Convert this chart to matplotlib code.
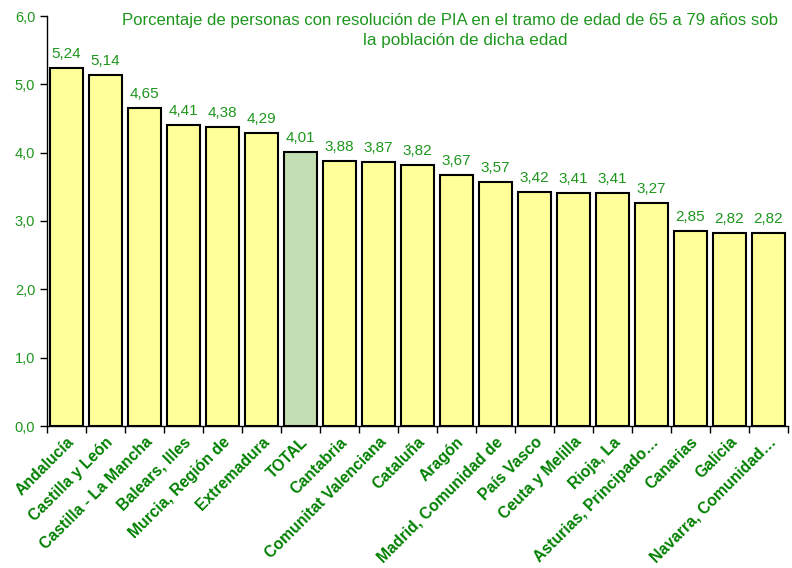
import numpy as np
import matplotlib.pyplot as plt
from matplotlib.ticker import FixedLocator, NullFormatter

plt.rcParams['font.family'] = ['Liberation Sans', 'DejaVu Sans']

regions = ["Andalucía", "Castilla y León", "Castilla - La Mancha", "Balears, Illes",
           "Murcia, Región de", "Extremadura", "TOTAL", "Cantabria",
           "Comunitat Valenciana", "Cataluña", "Aragón", "Madrid, Comunidad de",
           "País Vasco", "Ceuta y Melilla", "Rioja, La", "Asturias, Principado…",
           "Canarias", "Galicia", "Navarra, Comunidad…"]
values = [5.24, 5.14, 4.65, 4.41, 4.38, 4.29, 4.01, 3.88, 3.87, 3.82, 3.67,
          3.57, 3.42, 3.41, 3.41, 3.27, 2.85, 2.82, 2.82]
y_ticks = [0, 1, 2, 3, 4, 5, 6]

green = "#008000"
value_green = "#1E961E"

fig = plt.figure(figsize=(7.92, 5.68), dpi=100)
ax = fig.add_axes([47/792, 1 - 426/568, 741/792, 410/568])

x = np.arange(len(regions))
colors = ["#C4DEB4" if r == "TOTAL" else "#FFFF99" for r in regions]
ax.bar(x, values, width=0.84, color=colors, edgecolor="black", linewidth=1.5, zorder=2)

for xi, v in zip(x, values):
    ax.text(xi, v + 0.1, f"{v:.2f}".replace(".", ","), ha="center", va="bottom",
            fontsize=11, color=value_green)

ax.set_xlim(-0.5, len(regions) - 0.5)
ax.set_ylim(0, 6)
ax.set_yticks(y_ticks)
ax.set_yticklabels([f"{t:.1f}".replace(".", ",") for t in y_ticks], color=value_green, fontsize=10.5)

ax.set_xticks(x)
ax.set_xticklabels(regions, rotation=45, ha="right", rotation_mode="anchor",
                   fontsize=11.3, fontweight="bold", color=green)
ax.tick_params(axis="x", which="major", length=0, pad=6)
ax.xaxis.set_minor_locator(FixedLocator(np.arange(-0.5, len(regions), 1)))
ax.xaxis.set_minor_formatter(NullFormatter())
ax.tick_params(axis="x", which="minor", length=5, width=1, direction="out")
ax.tick_params(axis="y", length=5, width=1, direction="out")

ax.spines["top"].set_visible(False)
ax.spines["right"].set_visible(False)
ax.spines["left"].set_linewidth(1)
ax.spines["bottom"].set_linewidth(1)

# title box is clipped in the original, only "sob" shows
fig.text(122/792, 1 - 20/568, "Porcentaje de personas con resolución de PIA en el tramo de edad de 65 a 79 años sob",
         ha="left", va="center", fontsize=12.1, color=value_green)
fig.text(465/792, 1 - 40/568, "la población de dicha edad",
         ha="center", va="center", fontsize=12.3, color=value_green)

fig.savefig("out.png", dpi=100)
